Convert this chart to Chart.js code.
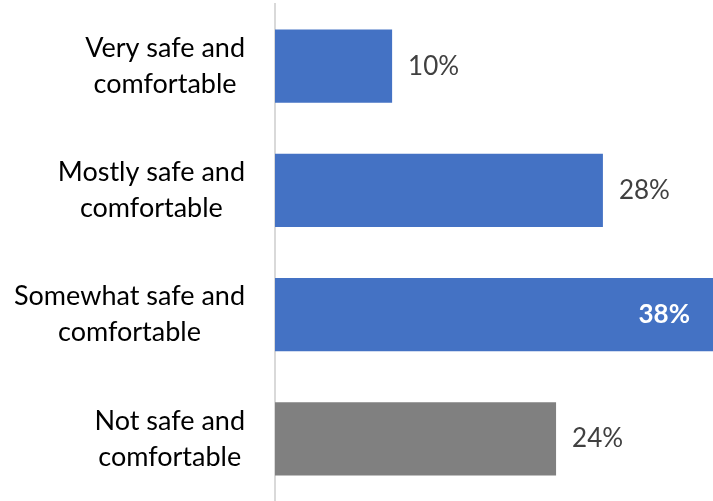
<!DOCTYPE html>
<html>
<head>
<meta charset="utf-8">
<script src="https://cdn.jsdelivr.net/npm/chart.js@4"></script>
<style>
  html, body { margin: 0; padding: 0; background: #fff; }
  #wrap { width: 713px; height: 501px; }
</style>
</head>
<body>
<div id="wrap"><canvas id="chart"></canvas></div>
<script>
const categories = [
  ["Very safe and", "comfortable"],
  ["Mostly safe and", "comfortable"],
  ["Somewhat safe and", "comfortable"],
  ["Not safe and", "comfortable"]
];
const values = [10, 28, 38, 24];
const barColors = ["#4472c4", "#4472c4", "#4472c4", "#808080"];

// category labels: block right-aligned to the axis, lines centred inside the block
const categoryLabels = {
  id: "categoryLabels",
  afterDraw(chart) {
    const ctx = chart.ctx;
    const yScale = chart.scales.y;
    const right = yScale.right - 30;
    const lineH = 36;
    ctx.save();
    ctx.font = "27px Lato";
    ctx.fillStyle = "#000000";
    ctx.textAlign = "center";
    ctx.textBaseline = "middle";
    yScale.getLabels().forEach((lines, i) => {
      const y = yScale.getPixelForTick(i);
      const w = Math.max(...lines.map(l => ctx.measureText(l).width));
      const cx = right - w / 2;
      lines.forEach((l, j) => {
        ctx.fillText(l, cx, y + (j - (lines.length - 1) / 2) * lineH);
      });
    });
    ctx.restore();
  }
};

// value labels: outside the bar, except the longest one which sits inside
const valueLabels = {
  id: "valueLabels",
  afterDatasetsDraw(chart) {
    const ctx = chart.ctx;
    const meta = chart.getDatasetMeta(0);
    const maxVal = Math.max(...values);
    ctx.save();
    ctx.textBaseline = "middle";
    meta.data.forEach((bar, i) => {
      const text = values[i] + "%";
      if (values[i] === maxVal) {
        ctx.font = "bold 26px Lato";
        ctx.fillStyle = "#ffffff";
        ctx.textAlign = "right";
        ctx.fillText(text, chart.chartArea.right - 23, bar.y);
      } else {
        ctx.font = "26px Lato";
        ctx.fillStyle = "#404040";
        ctx.textAlign = "left";
        ctx.fillText(text, bar.x + 16, bar.y);
      }
    });
    ctx.restore();
  }
};

new Chart(document.getElementById("chart"), {
  type: "bar",
  data: {
    labels: categories,
    datasets: [{
      data: values,
      backgroundColor: barColors,
      barPercentage: 0.59,
      categoryPercentage: 1
    }]
  },
  options: {
    indexAxis: "y",
    responsive: true,
    maintainAspectRatio: false,
    animation: false,
    layout: { padding: { top: 4, bottom: 0, left: 0, right: 0 } },
    plugins: {
      legend: { display: false },
      tooltip: { enabled: false }
    },
    scales: {
      x: {
        min: 0,
        max: 37.4,
        display: false
      },
      y: {
        grid: { display: false, drawTicks: false },
        border: { display: true, color: "#d9d9d9", width: 2 },
        ticks: { display: false },
        afterFit(scale) {
          scale.width = 275;
          scale.paddingTop = 0;
          scale.paddingBottom = 0;
        }
      }
    }
  },
  plugins: [categoryLabels, valueLabels]
});
</script>
</body>
</html>
